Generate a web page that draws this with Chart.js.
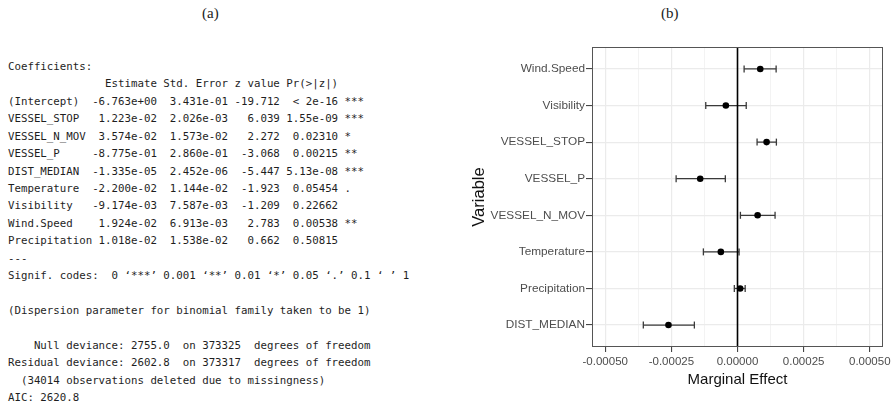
<!DOCTYPE html>
<html>
<head>
<meta charset="utf-8">
<script src="https://cdn.jsdelivr.net/npm/chart.js@4.4.1/dist/chart.umd.min.js"></script>
<style>
  body { margin: 0; background: #fff; width: 894px; height: 407px; overflow: hidden; position: relative; }
  .lbl { position: absolute; top: 5px; font-family: "Liberation Serif", serif; font-size: 15px; color: #222; }
  #rout { position: absolute; left: 8px; top: 58px; margin: 0; font-family: "DejaVu Sans Mono", monospace;
          font-size: 10.75px; line-height: 17.42px; color: #1e1e1e; white-space: pre; }
  #wrap { position: absolute; left: 440px; top: 0; width: 454px; height: 407px; }
</style>
</head>
<body>
<div class="lbl" style="left:202px">(a)</div>
<div class="lbl" style="left:661px">(b)</div>
<pre id="rout">Coefficients:
               Estimate Std. Error z value Pr(&gt;|z|)    
(Intercept)  -6.763e+00  3.431e-01 -19.712  &lt; 2e-16 ***
VESSEL_STOP   1.223e-02  2.026e-03   6.039 1.55e-09 ***
VESSEL_N_MOV  3.574e-02  1.573e-02   2.272  0.02310 *  
VESSEL_P     -8.775e-01  2.860e-01  -3.068  0.00215 ** 
DIST_MEDIAN  -1.335e-05  2.452e-06  -5.447 5.13e-08 ***
Temperature  -2.200e-02  1.144e-02  -1.923  0.05454 .  
Visibility   -9.174e-03  7.587e-03  -1.209  0.22662    
Wind.Speed    1.924e-02  6.913e-03   2.783  0.00538 ** 
Precipitation 1.018e-02  1.538e-02   0.662  0.50815    
---
Signif. codes:  0 ‘***’ 0.001 ‘**’ 0.01 ‘*’ 0.05 ‘.’ 0.1 ‘ ’ 1

(Dispersion parameter for binomial family taken to be 1)

    Null deviance: 2755.0  on 373325  degrees of freedom
Residual deviance: 2602.8  on 373317  degrees of freedom
  (34014 observations deleted due to missingness)
AIC: 2620.8</pre>
<div id="wrap"><canvas id="myChart"></canvas></div>
<script>
// variables, top to bottom as in the plot
var variables = ['Wind.Speed', 'Visibility', 'VESSEL_STOP', 'VESSEL_P', 'VESSEL_N_MOV', 'Temperature', 'Precipitation', 'DIST_MEDIAN'];
var effect = [0.000086, -0.000044, 0.000110, -0.000141, 0.000076, -0.000063, 0.000010, -0.000261];
var lower  = [0.000025, -0.000120, 0.000074, -0.000232, 0.000011, -0.000129, -0.000012, -0.000356];
var upper  = [0.000146, 0.000033, 0.000147, -0.000046, 0.000142, 0.000006, 0.000029, -0.000163];
var xTicks = [-0.0005, -0.000375, -0.00025, -0.000125, 0, 0.000125, 0.00025, 0.000375, 0.0005];
var xMin = -0.00055, xMax = 0.00055;

function isMajor(v) {
    return Math.abs(Math.round(v / 0.00025) * 0.00025 - v) < 1e-9;
}

var datasets = [];

// points
datasets.push({
    type: 'scatter',
    label: 'effect',
    data: variables.map(function(v, i){ return {x: effect[i], y: i}; }),
    backgroundColor: '#000',
    borderColor: '#000',
    pointRadius: 3.3,
    pointBorderWidth: 0,
    order: 0
});

// zero reference line
datasets.push({
    type: 'line',
    label: 'zero',
    data: [{x: 0, y: -0.6}, {x: 0, y: variables.length - 0.4}],
    borderColor: '#000',
    borderWidth: 1.6,
    pointRadius: 0,
    order: 1
});

// error bars
for (var i = 0; i < variables.length; i++) {
    datasets.push({
        type: 'line',
        label: 'ci' + i,
        data: [{x: lower[i], y: i}, {x: upper[i], y: i}],
        borderColor: '#3a3a3a',
        borderWidth: 1.3,
        pointStyle: 'line',
        pointRotation: 90,
        pointRadius: 3.5,
        pointBorderWidth: 1.3,
        pointBorderColor: '#3a3a3a',
        order: 2
    });
}

var panelBorder = {
    id: 'panelBorder',
    afterDraw: function(chart) {
        var a = chart.chartArea, c = chart.ctx;
        c.save();
        c.strokeStyle = '#555';
        c.lineWidth = 1;
        c.strokeRect(Math.round(a.left) + 0.5, Math.round(a.top) + 0.5, Math.round(a.right - a.left) - 1, Math.round(a.bottom - a.top) - 1);
        c.restore();
    }
};

var ctx = document.getElementById('myChart');
var chart = new Chart(ctx, {
    type: 'scatter',
    data: { datasets: datasets },
    options: {
        responsive: true,
        maintainAspectRatio: false,
        animation: false,
        layout: { padding: { top: 47, right: 11, bottom: 0, left: 0 } },
        plugins: { legend: { display: false }, tooltip: { enabled: false } },
        scales: {
            x: {
                type: 'linear',
                min: xMin,
                max: xMax,
                afterBuildTicks: function(scale) {
                    scale.ticks = xTicks.map(function(v){ return {value: v}; });
                },
                afterFit: function(scale) {
                    scale.height = 60;
                    scale.paddingLeft = 0;
                    scale.paddingRight = 0;
                },
                border: { display: false },
                grid: {
                    color: '#ebebeb',
                    lineWidth: function(c){ return c.tick && isMajor(c.tick.value) ? 1.2 : 0.6; },
                    tickLength: 5,
                    tickColor: function(c){ return c.tick && isMajor(c.tick.value) ? '#333' : 'rgba(0,0,0,0)'; },
                    tickWidth: 1
                },
                ticks: {
                    autoSkip: false,
                    maxRotation: 0,
                    padding: 3,
                    color: '#4d4d4d',
                    font: { family: 'Liberation Sans, Arial', size: 11.5 },
                    callback: function(v){ return isMajor(v) ? v.toFixed(5) : ''; }
                },
                title: {
                    display: true,
                    text: 'Marginal Effect',
                    color: '#111',
                    font: { family: 'Liberation Sans, Arial', size: 15 },
                    padding: { top: 0, bottom: 18 }
                }
            },
            y: {
                type: 'linear',
                reverse: true,
                min: -0.6,
                max: variables.length - 0.4,
                afterBuildTicks: function(scale) {
                    scale.ticks = variables.map(function(v, i){ return {value: i}; });
                },
                afterFit: function(scale) {
                    scale.width = 152;
                    scale.paddingTop = 0;
                    scale.paddingBottom = 0;
                },
                border: { display: false },
                grid: {
                    color: '#ebebeb',
                    lineWidth: 1.2,
                    tickLength: 6,
                    tickColor: '#333',
                    tickWidth: 1
                },
                ticks: {
                    autoSkip: false,
                    padding: 1,
                    color: '#4d4d4d',
                    font: { family: 'Liberation Sans, Arial', size: 11.8 },
                    callback: function(v){ return variables[v]; }
                },
                title: {
                    display: true,
                    text: 'Variable',
                    color: '#111',
                    font: { family: 'Liberation Sans, Arial', size: 16.5 },
                    padding: { top: 30, bottom: 0 }
                }
            }
        }
    },
    plugins: [panelBorder]
});
</script>
</body>
</html>
